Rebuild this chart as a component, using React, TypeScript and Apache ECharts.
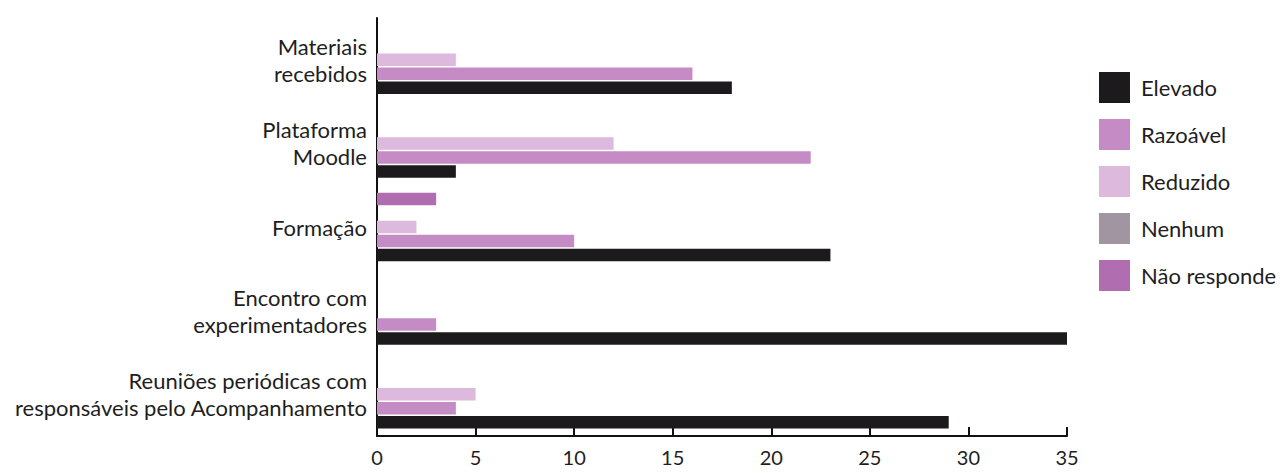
import React, { useEffect, useRef } from "react";
import * as echarts from "echarts";

const categories = [
  "Materiais\nrecebidos",
  "Plataforma\nMoodle",
  "Formação",
  "Encontro com\nexperimentadores",
  "Reuniões periódicas com\nresponsáveis pelo Acompanhamento",
];

const elevado = [18, 4, 23, 35, 29];
const razoavel = [16, 22, 10, 3, 4];
const reduzido = [4, 12, 2, 0, 5];
const nenhum = [0, 0, 0, 0, 0];
const naoResponde = [0, 0, 3, 0, 0];

const legendOrder = ["Elevado", "Razoável", "Reduzido", "Nenhum", "Não responde"];
const xTicks = { min: 0, max: 35, interval: 5 };

const FONT = "Lato, 'Open Sans', sans-serif";

export default function App() {
  const ref = useRef<HTMLDivElement>(null);

  useEffect(() => {
    document.body.style.margin = "0";
    const chart = echarts.init(ref.current!, null, { renderer: "svg" });
    const bar = (name: string, data: number[], color: string) => ({
      name,
      type: "bar",
      data,
      barWidth: 12.5,
      barGap: "12%",
      itemStyle: { color },
    });
    chart.setOption({
      animation: false,
      backgroundColor: "#ffffff",
      textStyle: { fontFamily: FONT },
      grid: { left: 377, right: 218, top: 18, bottom: 37, containLabel: false },
      legend: {
        orient: "vertical",
        left: 1099,
        top: 72,
        padding: 0,
        itemWidth: 31,
        itemHeight: 31,
        itemGap: 16,
        icon: "rect",
        data: legendOrder,
        textStyle: { fontSize: 22, color: "#1e1e1e", fontFamily: FONT, padding: [0, 0, 0, 6] },
      },
      xAxis: {
        type: "value",
        min: xTicks.min,
        max: xTicks.max,
        interval: xTicks.interval,
        axisLine: { show: true, lineStyle: { color: "#111", width: 2 } },
        axisTick: { show: true, inside: true, length: 9, lineStyle: { color: "#111", width: 2 } },
        splitLine: { show: false },
        axisLabel: { fontSize: 20, color: "#1e1e1e", margin: 11, fontFamily: FONT },
      },
      yAxis: {
        type: "category",
        inverse: true,
        data: categories,
        axisLine: { show: true, lineStyle: { color: "#111", width: 2 } },
        axisTick: { show: false },
        axisLabel: { fontSize: 22, lineHeight: 27, color: "#1e1e1e", margin: 10, fontFamily: FONT },
      },
      series: [
        bar("Não responde", naoResponde, "#b06db0"),
        bar("Nenhum", nenhum, "#a195a2"),
        bar("Reduzido", reduzido, "#dcb9dd"),
        bar("Razoável", razoavel, "#c48bc5"),
        bar("Elevado", elevado, "#1c1a1c"),
      ],
    });
    return () => chart.dispose();
  }, []);

  return <div ref={ref} style={{ width: 1285, height: 473 }} />;
}
